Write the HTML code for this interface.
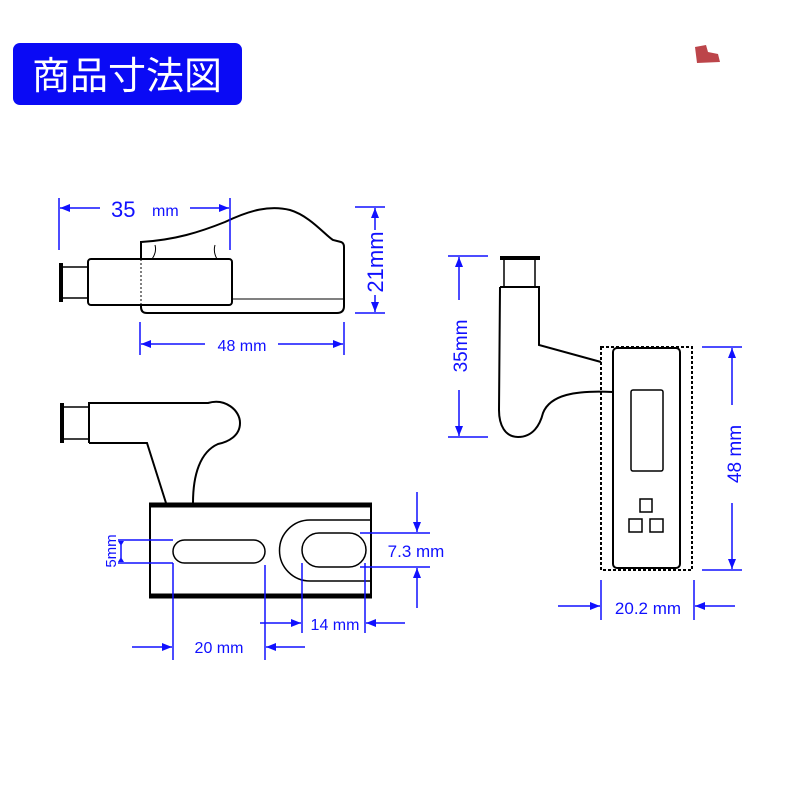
<!DOCTYPE html>
<html><head><meta charset="utf-8"><style>
html,body{margin:0;padding:0;background:#fff;width:800px;height:800px;overflow:hidden}
svg{display:block}
text{font-family:"Liberation Sans",Arial,sans-serif;fill:#1010ff}
</style></head><body>
<svg width="800" height="800" viewBox="0 0 800 800" xmlns="http://www.w3.org/2000/svg">
<defs>
<marker id="a" markerWidth="10" markerHeight="8" refX="10" refY="4" orient="auto" markerUnits="userSpaceOnUse"><path d="M0,0 L10,4 L0,8 z" fill="#1010ff"/></marker>
</defs>
<rect x="13" y="43" width="229" height="62" rx="7" fill="#0a0af5"/>
<text x="127" y="89" text-anchor="middle" style="font-family:'Noto Sans CJK JP',sans-serif;fill:#fff;font-size:38px">商品寸法図</text>
<path d="M695,47 L706,45 L708,52 L718,54 L720,62 L697,63 Z" fill="#b0242a" opacity="0.85"/>

<g fill="none" stroke="#000" stroke-width="2">
<line x1="61" y1="263" x2="61" y2="302" stroke-width="4"/>
<line x1="61" y1="267" x2="88" y2="267" stroke-width="1.5"/>
<line x1="61" y1="298" x2="88" y2="298" stroke-width="1.5"/>
<path d="M141,242 C175,240 200,232 225,222 C250,210 270,205 290,210 C310,216 325,235 333,240 L341,242 Q344,243 344,247 L344,306 Q344,313 337,313 L147,313 Q141,313 141,307 Z"/>
<rect x="88" y="259" width="144" height="46" rx="3" fill="#fff"/>
<line x1="141" y1="259" x2="141" y2="305" stroke-dasharray="2,2" stroke-width="1"/>
<line x1="232" y1="299" x2="344" y2="299" stroke-width="1"/>
<path d="M155,245 Q157,252 152,259 M215,245 Q213,252 217,259" stroke-width="1"/>
<line x1="62" y1="403" x2="62" y2="443" stroke-width="4"/>
<line x1="62" y1="407" x2="89" y2="407" stroke-width="1.5"/>
<line x1="62" y1="439" x2="89" y2="439" stroke-width="1.5"/>
<path d="M89,443 L89,403 L208,403 C225,398 240,410 240,423 C240,436 228,442 218,444 C200,452 193,475 193,503 M166,503 L147,443 L89,443"/>
<rect x="150" y="504" width="221" height="93"/>
<line x1="149" y1="505" x2="372" y2="505" stroke-width="5"/>
<line x1="149" y1="596" x2="372" y2="596" stroke-width="5"/>
<rect x="173" y="540" width="92" height="23" rx="11.5" stroke-width="1.5"/>
<path d="M370,520 L310,520 A30.5,30.5 0 0 0 310,581 L370,581" stroke-width="1.5"/>
<rect x="302" y="533" width="64" height="34" rx="17" stroke-width="1.5"/>
<line x1="500" y1="258" x2="540" y2="258" stroke-width="4"/>
<line x1="504" y1="258" x2="504" y2="287" stroke-width="1.5"/>
<line x1="535" y1="258" x2="535" y2="287" stroke-width="1.5"/>
<path d="M500,287 L539,287 L539,345 L601,362 M613,392 C575,390 550,395 543,413 C540,425 533,437 518,437 C505,437 499,425 499,410 L500,287"/>
<rect x="601" y="347" width="91" height="223" stroke-dasharray="3,2"/>
<rect x="613" y="348" width="67" height="220" rx="4"/>
<rect x="631" y="390" width="32" height="81" rx="2" stroke-width="1.5"/>
<rect x="640" y="499" width="12" height="13" stroke-width="1.5"/>
<rect x="629" y="519" width="13" height="13" stroke-width="1.5"/>
<rect x="650" y="519" width="13" height="13" stroke-width="1.5"/>
</g>

<g stroke="#1010ff" stroke-width="1.5" fill="none">
<line x1="59" y1="198" x2="59" y2="250"/>
<line x1="230" y1="198" x2="230" y2="250"/>
<line x1="100" y1="208" x2="60" y2="208" marker-end="url(#a)"/>
<line x1="190" y1="208" x2="229" y2="208" marker-end="url(#a)"/>
<line x1="140" y1="322" x2="140" y2="355"/>
<line x1="344" y1="322" x2="344" y2="355"/>
<line x1="205" y1="344" x2="141" y2="344" marker-end="url(#a)"/>
<line x1="278" y1="344" x2="343" y2="344" marker-end="url(#a)"/>
<line x1="355" y1="207" x2="385" y2="207"/>
<line x1="355" y1="313" x2="385" y2="313"/>
<line x1="375" y1="230" x2="375" y2="208" marker-end="url(#a)"/>
<line x1="375" y1="295" x2="375" y2="312" marker-end="url(#a)"/>
<line x1="118" y1="540" x2="173" y2="540"/>
<line x1="118" y1="563" x2="173" y2="563"/>
<line x1="121" y1="545" x2="121" y2="558"/>
<line x1="360" y1="533" x2="430" y2="533"/>
<line x1="360" y1="567" x2="430" y2="567"/>
<line x1="417" y1="492" x2="417" y2="532" marker-end="url(#a)"/>
<line x1="417" y1="608" x2="417" y2="568" marker-end="url(#a)"/>
<line x1="173" y1="563" x2="173" y2="660"/>
<line x1="265" y1="565" x2="265" y2="660"/>
<line x1="132" y1="647" x2="172" y2="647" marker-end="url(#a)"/>
<line x1="305" y1="647" x2="266" y2="647" marker-end="url(#a)"/>
<line x1="302" y1="563" x2="302" y2="633"/>
<line x1="365" y1="563" x2="365" y2="633"/>
<line x1="260" y1="623" x2="301" y2="623" marker-end="url(#a)"/>
<line x1="405" y1="623" x2="366" y2="623" marker-end="url(#a)"/>
<line x1="448" y1="256" x2="488" y2="256"/>
<line x1="448" y1="437" x2="488" y2="437"/>
<line x1="459" y1="300" x2="459" y2="257" marker-end="url(#a)"/>
<line x1="459" y1="390" x2="459" y2="436" marker-end="url(#a)"/>
<line x1="702" y1="347" x2="742" y2="347"/>
<line x1="702" y1="570" x2="742" y2="570"/>
<line x1="732" y1="405" x2="732" y2="348" marker-end="url(#a)"/>
<line x1="732" y1="503" x2="732" y2="569" marker-end="url(#a)"/>
<line x1="601" y1="580" x2="601" y2="620"/>
<line x1="694" y1="580" x2="694" y2="620"/>
<line x1="558" y1="606" x2="600" y2="606" marker-end="url(#a)"/>
<line x1="735" y1="606" x2="695" y2="606" marker-end="url(#a)"/>
</g>
<path d="M121,546 l-3,-5 h6 z M121,557 l-3,5 h6 z" fill="#1010ff"/>

<text x="111" y="217" font-size="22">35</text><text x="152" y="216" font-size="16">mm</text>
<text x="242" y="351" font-size="16" text-anchor="middle">48 mm</text>
<text transform="translate(383,262) rotate(-90)" font-size="22" text-anchor="middle">21mm</text>
<text transform="translate(116,551) rotate(-90)" font-size="15" text-anchor="middle">5mm</text>
<text x="416" y="557" font-size="17" text-anchor="middle">7.3 mm</text>
<text x="219" y="653" font-size="16" text-anchor="middle">20 mm</text>
<text x="335" y="630" font-size="16" text-anchor="middle">14 mm</text>
<text transform="translate(467,346) rotate(-90)" font-size="19" text-anchor="middle">35mm</text>
<text transform="translate(741,454) rotate(-90)" font-size="19" text-anchor="middle">48 mm</text>
<text x="648" y="614" font-size="17" text-anchor="middle">20.2 mm</text>
</svg>
</body></html>
